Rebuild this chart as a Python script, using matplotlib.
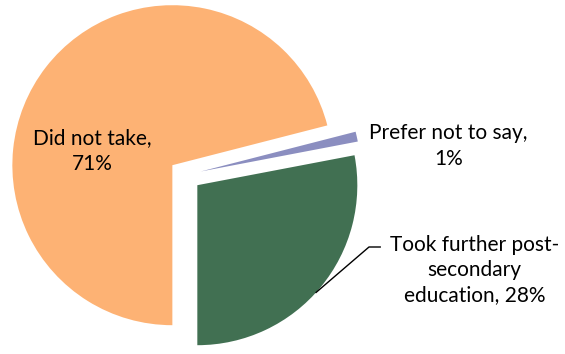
import numpy as np
import matplotlib.pyplot as plt

labels = ["Took further post-\nsecondary\neducation", "Prefer not to say", "Did not take"]
shares = [28, 1, 71]
colors = ["#417052", "#8B8EC0", "#FDB274"]

plt.rcParams['font.family'] = ['Lato', 'DejaVu Sans']

fig = plt.figure(figsize=(5.65, 3.54), dpi=100)
ax = fig.add_axes([0, 0, 1, 1])

wedges, _ = ax.pie(shares, colors=colors, startangle=-90, counterclock=True,
                   explode=[0.1, 0.1, 0.1], radius=1.0)

ax.set_aspect('equal')
ax.set_xlim(-185 / 160, 380 / 160)
ax.set_ylim(-179 / 160, 175 / 160)
ax.axis('off')

fs = 15
# orange label inside slice
ax.text(-0.58, 0.15, "Did not take,\n71%", ha='center', va='center', fontsize=fs,
        linespacing=1.35)
# purple label
ax.text(1.645, 0.18, "Prefer not to say,\n1%", ha='center', va='center', fontsize=fs,
        linespacing=1.35)
# green label with leader line
tx, ty = 1.81, -0.595
ax.text(tx, ty, "Took further post-\nsecondary\neducation, 28%", ha='center', va='center',
        fontsize=fs, linespacing=1.3)

w = wedges[0]
mid = np.deg2rad((w.theta1 + w.theta2) / 2 - 2.5)
cx, cy = w.center
p0 = (cx + w.r * np.cos(mid), cy + w.r * np.sin(mid))
p2 = (1.22, -0.45)
p1 = (p2[0] - 0.07, p2[1])
ax.plot([p0[0], p1[0], p2[0]], [p0[1], p1[1], p2[1]], color='black', lw=1)

fig.savefig("out.png", dpi=100)
